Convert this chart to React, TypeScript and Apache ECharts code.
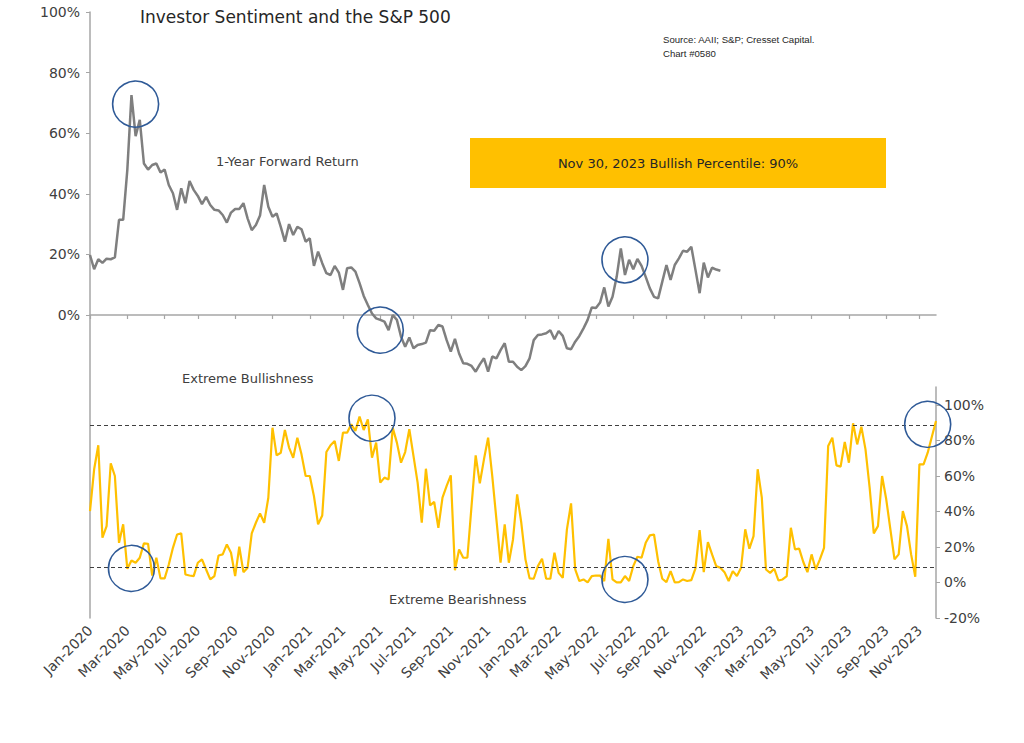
import React, { useEffect, useRef } from "react";
import * as echarts from "echarts";

// ---------- DATA ----------
const START_DATE_UTC = Date.UTC(2020, 0, 2);
const WEEK_COUNT = 205; // weekly, Jan 2 2020 .. Nov 30 2023
const weeks: string[] = Array.from({ length: WEEK_COUNT }, (_, i) =>
  new Date(START_DATE_UTC + i * 7 * 86400000).toISOString().slice(0, 10)
);
const monthNames = ["Jan", "Feb", "Mar", "Apr", "May", "Jun", "Jul", "Aug", "Sep", "Oct", "Nov", "Dec"];

// S&P 500 1-year forward return (%), weekly
const fwdReturn: number[] = [
  19.8, 15.1, 18.4, 17.2, 18.6, 18.4, 19, 31.4, 31.4, 47.9,
  72.6, 59, 64.4, 50, 48, 49.5, 50, 47, 48, 42.9,
  40.2, 34.7, 41.8, 36.9, 44.2, 41.3, 39.3, 36.6, 39, 36.3,
  34.7, 34.5, 33, 30.5, 33.8, 35, 35, 36.9, 31.9, 28,
  29.7, 32.8, 42.9, 35.7, 32.4, 33.5, 29.1, 24.2, 30, 26.4,
  29.1, 28.3, 24.2, 25.3, 16.2, 20.9, 17.1, 13.8, 13.2, 16.2,
  14, 8.3, 15.4, 15.7, 14.3, 10.5, 6.3, 3.3, 0.5, -1.1,
  -1.6, -2.2, -5, 0, -1.6, -7.2, -10.5, -7.4, -11, -9.9,
  -9.6, -9.1, -5, -5.2, -3.3, -3.8, -8.3, -12.1, -7.9, -12.7,
  -15.9, -16.1, -16.8, -18.7, -16.3, -14.3, -18.7, -13.7, -14.3, -11.6,
  -9.3, -15.4, -15.4, -17.1, -18.2, -16.9, -14.3, -8.3, -6.6, -6.4,
  -6, -5, -8, -5.3, -6.9, -11, -11.3, -8.8, -6.9, -4.4,
  -1.6, 2.5, 2.3, 4.1, 9.1, 2.8, 6, 12.6, 22, 13.2,
  18.2, 15.1, 18.5, 16.2, 12.6, 8.8, 6, 5.5,
  11, 16.5, 11.6, 16.5, 18.7, 21.2, 20.9, 22.5, 14.9, 7.2,
  17.3, 12.4, 15.6, 15, 14.6,
];

// AAII bullish sentiment percentile (%), weekly
const bullPercentile: number[] = [
  40.2, 63.7, 77.2, 25.2, 31.7, 67, 59.9, 22.3, 32.7, 7.7,
  12.4, 11.1, 13.9, 22, 21.8, 3.9, 13.9, 2.3, 2.3, 10.1,
  19.5, 27, 27.6, 4.5, 3.9, 3.6, 11.1, 13, 7.3, 1.7,
  3.6, 15.2, 15.8, 21.4, 16.7, 3.6, 20.1, 5.8, 8.3, 27.6,
  33.6, 38.9, 33.6, 47.7, 87.1, 71.5, 73, 85.8, 75.9, 70.2,
  81.5, 72.1, 59.9, 59.9, 48.6, 32.7, 37.7, 73.4, 77.2, 79.6,
  68.4, 84.3, 84.3, 89, 85.3,
  93.3, 85.8, 91.8, 70.2, 78.7,
  56.2, 59, 58, 87.1, 78.7, 67.4, 73.4, 86.2, 71.2, 56.2,
  33.6, 64, 43.4, 45.3, 30.8, 47.7, 54.3, 60.3, 6.9, 18.6,
  13.9, 13.9, 43, 71.5, 55.8, 69.3, 81.5, 59.9, 35.5, 11.1,
  32.7, 11.1, 24.2, 49.6, 33.6, 13, 2.3, 2.1, 9.2, 13.3,
  2.1, 2.1, 16.7, 5.4, 2.6, 29.9, 44.5, 7.3, 0.8, 1.7,
  0, 3.6, 3.9, 3.9, 0.8, 24.6, 1.7, 0, 0, 3.6,
  0.8, 9.2, 14.5, 13.9, 22.3, 26.5, 27,
  12, 2.1, 0.2, 6.4, 0, 0.2, 1.7, 0.8, 1.3, 7.9,
  29.5, 5.8, 22.7, 15.8, 9.2, 8.3, 5.8, 0.8, 6.4, 3.6,
  8.3, 29.9, 19, 26.1, 63.7, 47.7, 7.3, 5.4, 7.7, 1.1,
  1.7, 3.6, 30.8, 18.6, 19, 11.5, 5.8, 15.8, 7.3, 13,
  19.5, 76.8, 81.5, 65.9, 65.2, 79.1, 67.4, 89.6, 77.7, 87.7,
  74.9, 53.3, 27.6, 31.7, 59.9, 46.8, 29.9, 13, 15.8, 40.2,
  31.7, 15.8, 3.2, 66.5, 66.5, 73, 82, 90.9,
];

const leftTicks = [0, 20, 40, 60, 80, 100];
const rightTicks = [-20, 0, 20, 40, 60, 80, 100];
const extremeBullLevel = 88.5;
const extremeBearLevel = 8.5;

// highlighted points: [grid, week index, value]
const highlights: [number, number, number][] = [
  [0, 11, 69.6],
  [0, 70, -5],
  [0, 129, 18.2],
  [1, 10, 7.9],
  [1, 68, 92.4],
  [1, 129, 1.7],
  [1, 202, 89],
];

// ---------- STYLE ----------
const FONT = "DejaVu Sans";
const TEXT = "#404040";
const AXIS = "#A6A6A6";
const GRAY = "#7F7F7F";
const GOLD = "#FFC000";
const CIRCLE = "#2F5A97";

const showMonth = (_i: number, v: string) => {
  const d = new Date(v + "T00:00:00Z");
  return d.getUTCDate() <= 7 && d.getUTCMonth() % 2 === 0;
};
const fmtMonth = (v: string) => {
  const d = new Date(v + "T00:00:00Z");
  return `${monthNames[d.getUTCMonth()]}-${d.getUTCFullYear()}`;
};

export default function App() {
  const ref = useRef<HTMLDivElement>(null);

  useEffect(() => {
    if (!ref.current) return;
    const chart = echarts.init(ref.current, undefined, { renderer: "svg" });

    const texts: any[] = [
      { type: "text", x: 140, y: 17, style: { text: "Investor Sentiment and the S&P 500", font: `17px '${FONT}'`, fill: "#262626", textVerticalAlign: "middle", verticalAlign: "middle" } },
      { type: "text", x: 663, y: 39, style: { text: "Source: AAII; S&P; Cresset Capital.", font: "9.6px 'Liberation Sans'", fill: "#262626", textVerticalAlign: "middle", verticalAlign: "middle" } },
      { type: "text", x: 663, y: 53, style: { text: "Chart #0580", font: "9.6px 'Liberation Sans'", fill: "#262626", textVerticalAlign: "middle", verticalAlign: "middle" } },
      { type: "text", x: 216, y: 161, style: { text: "1-Year Forward Return", font: `13px '${FONT}'`, fill: TEXT, textVerticalAlign: "middle", verticalAlign: "middle" } },
      { type: "rect", shape: { x: 470, y: 138, width: 416, height: 50 }, style: { fill: GOLD } },
      { type: "text", x: 678, y: 163, style: { text: "Nov 30, 2023 Bullish Percentile: 90%", font: `13px '${FONT}'`, fill: "#262626", textAlign: "center", align: "center", textVerticalAlign: "middle", verticalAlign: "middle" } },
      { type: "text", x: 182, y: 378, style: { text: "Extreme Bullishness", font: `13px '${FONT}'`, fill: TEXT, textVerticalAlign: "middle", verticalAlign: "middle" } },
      { type: "text", x: 389, y: 599, style: { text: "Extreme Bearishness", font: `13px '${FONT}'`, fill: TEXT, textVerticalAlign: "middle", verticalAlign: "middle" } },
    ];

    const option: any = {
      animation: false,
      backgroundColor: "#ffffff",
      grid: [
        { left: 90, right: 88, top: 12, height: 606, outerBoundsMode: "none" },
        { left: 90, right: 88, top: 387, height: 231, outerBoundsMode: "none" },
      ],
      xAxis: [
        {
          type: "category",
          gridIndex: 0,
          data: weeks,
          boundaryGap: false,
          axisLine: { onZero: true, lineStyle: { color: AXIS, width: 1.5 } },
          axisTick: { show: true, interval: showMonth, length: 4, lineStyle: { color: AXIS, width: 1.2 } },
          axisLabel: { show: false, interval: showMonth },
          splitLine: { show: false },
        },
        {
          type: "category",
          gridIndex: 1,
          data: weeks,
          boundaryGap: false,
          axisLine: { show: false },
          axisTick: { show: false },
          axisLabel: {
            show: true,
            interval: showMonth,
            formatter: fmtMonth,
            rotate: 45,
            margin: 10,
            color: TEXT,
            fontFamily: FONT,
            fontSize: 14,
            hideOverlap: false,
          },
          splitLine: { show: false },
        },
      ],
      yAxis: [
        {
          type: "value",
          gridIndex: 0,
          position: "left",
          min: -100,
          max: 100,
          interval: 20,
          axisLine: { show: true, lineStyle: { color: AXIS, width: 1.5 } },
          axisTick: { show: true, customValues: leftTicks, length: 4, lineStyle: { color: AXIS } },
          axisLabel: {
            customValues: leftTicks,
            formatter: (v: number) => `${v}%`,
            color: TEXT,
            fontFamily: FONT,
            fontSize: 14,
            margin: 10,
          },
          splitLine: { show: false },
        },
        {
          type: "value",
          gridIndex: 1,
          position: "right",
          min: -20,
          max: 110,
          interval: 20,
          axisLine: { show: true, lineStyle: { color: AXIS, width: 1.5 } },
          axisTick: { show: true, customValues: rightTicks, length: 4, lineStyle: { color: AXIS } },
          axisLabel: {
            customValues: rightTicks,
            formatter: (v: number) => `${v}%`,
            color: TEXT,
            fontFamily: FONT,
            fontSize: 14,
            margin: 8,
          },
          splitLine: { show: false },
        },
      ],
      series: [
        {
          name: "1-Year Forward Return",
          type: "line",
          xAxisIndex: 0,
          yAxisIndex: 0,
          data: weeks.map((_, i) => (i < fwdReturn.length ? fwdReturn[i] : null)),
          showSymbol: false,
          symbol: "none",
          lineStyle: { color: GRAY, width: 2.5 },
          z: 3,
        },
        {
          name: "Bullish Percentile",
          type: "line",
          xAxisIndex: 1,
          yAxisIndex: 1,
          data: bullPercentile,
          showSymbol: false,
          symbol: "none",
          lineStyle: { color: GOLD, width: 2.2 },
          z: 3,
          markLine: {
            silent: true,
            symbol: ["none", "none"],
            label: { show: false },
            lineStyle: { type: [4, 3], color: "#404040", width: 1.2 },
            data: [{ yAxis: extremeBullLevel }, { yAxis: extremeBearLevel }],
          },
        },
      ],
    };

    chart.setOption(option);

    const circles = highlights.map(([g, idx, val]) => {
      const p = chart.convertToPixel({ xAxisIndex: g, yAxisIndex: g } as any, [idx, val]) as number[];
      return {
        type: "circle",
        shape: { cx: p[0], cy: p[1], r: 23 },
        style: { fill: "none", stroke: CIRCLE, lineWidth: 1.6 },
        z: 100,
      };
    });

    chart.setOption({ graphic: [...texts, ...circles] });

    return () => chart.dispose();
  }, []);

  return (
    <div
      ref={ref}
      style={{ position: "absolute", left: 0, top: 0, width: 1024, height: 743, background: "#fff" }}
    />
  );
}
